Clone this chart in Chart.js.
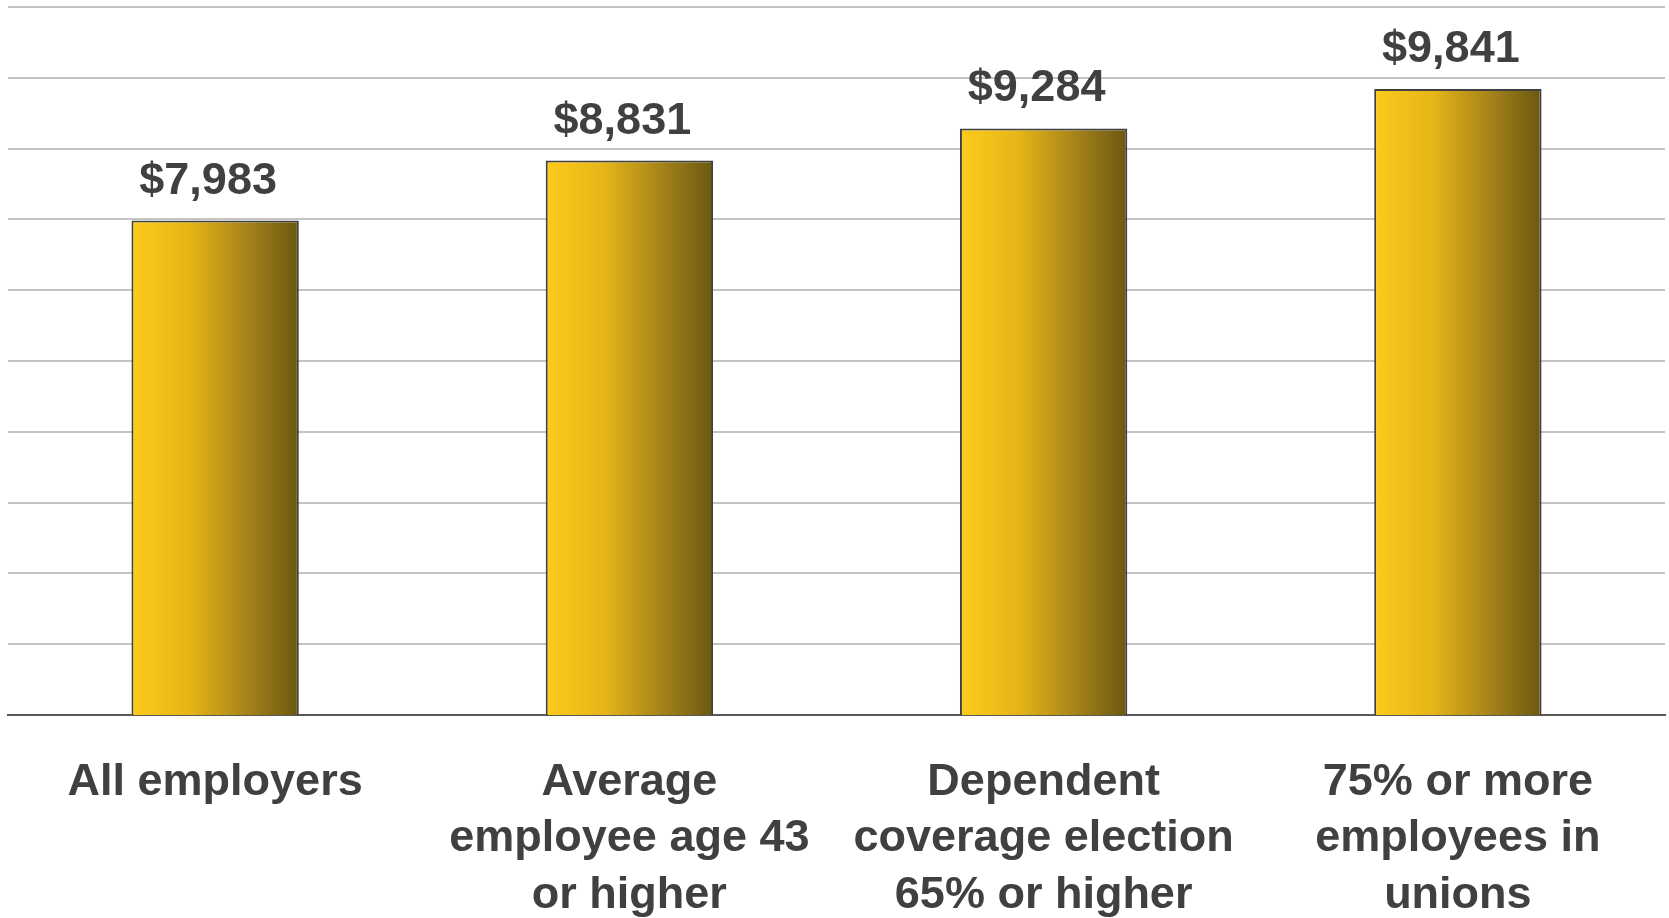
<!DOCTYPE html>
<html>
<head>
<meta charset="utf-8">
<script src="https://cdn.jsdelivr.net/npm/chart.js@4/dist/chart.umd.min.js"></script>
<style>
    html, body { margin: 0; padding: 0; background: #fff; }
    #wrap { width: 1669px; height: 918px; }
</style>
</head>
<body>
<div id="wrap"><canvas id="chart"></canvas></div>
<script>
// values
const categories = [
    ["All employers"],
    ["Average", "employee age 43", "or higher"],
    ["Dependent", "coverage election", "65% or higher"],
    ["75% or more", "employees in", "unions"]
];
const costs = [7983, 8831, 9284, 9841];
const yMin = 1000;
const yMax = 11000;
const yStep = 1000;

const textColor = "#404040";
const labelFont = {family: "'Liberation Sans', Arial, sans-serif", size: 45, weight: "bold"};

// each bar gets its own left-to-right gold gradient
const goldBars = {
    id: "goldBars",
    beforeDatasetsDraw(chart) {
        let ctx = chart.ctx;
        chart.getDatasetMeta(0).data.forEach(bar => {
            let left = bar.x - bar.width / 2;
            let grad = ctx.createLinearGradient(left, 0, left + bar.width, 0);
            grad.addColorStop(0, "#fdcb1b");
            grad.addColorStop(0.35, "#e6b517");
            grad.addColorStop(0.7, "#a4821a");
            grad.addColorStop(1, "#6b5710");
            bar.options.backgroundColor = grad;
        });
    }
};

const valueLabels = {
    id: "valueLabels",
    afterDatasetsDraw(chart) {
        let ctx = chart.ctx;
        ctx.save();
        ctx.font = `bold ${labelFont.size}px ${labelFont.family}`;
        ctx.fillStyle = textColor;
        ctx.textAlign = "center";
        ctx.textBaseline = "alphabetic";
        chart.getDatasetMeta(0).data.forEach((bar, i) => {
            // labels sit a touch left of the bar centre in the original
            ctx.fillText("$" + costs[i].toLocaleString("en-US"), bar.x - 7, bar.y - 27);
        });
        ctx.restore();
    }
};

new Chart(document.getElementById("chart"), {
    type: "bar",
    data: {
        labels: categories,
        datasets: [{
            data: costs,
            // scriptable so every bar keeps its own options object
            backgroundColor: () => "#d4a916",
            borderColor: "#404040",
            borderWidth: 2,
            borderSkipped: false,
            categoryPercentage: 1,
            barPercentage: 0.404
        }]
    },
    options: {
        responsive: true,
        maintainAspectRatio: false,
        animation: false,
        layout: {padding: {top: 7, left: 8, right: 4, bottom: 0}},
        plugins: {
            legend: {display: false},
            tooltip: {enabled: false}
        },
        scales: {
            x: {
                grid: {display: false, drawTicks: false},
                border: {display: true, color: "#595959", width: 2},
                ticks: {
                    color: textColor,
                    font: {...labelFont, lineHeight: 1.26},
                    padding: 39,
                    maxRotation: 0,
                    autoSkip: false
                },
                // labels run off the bottom edge in the original
                afterFit(scale) { scale.height = 203; }
            },
            y: {
                min: yMin,
                max: yMax,
                grid: {color: "#c4c4c4", lineWidth: 2, drawTicks: false},
                border: {display: false},
                ticks: {display: false, stepSize: yStep}
            }
        }
    },
    plugins: [goldBars, valueLabels]
});
</script>
</body>
</html>
